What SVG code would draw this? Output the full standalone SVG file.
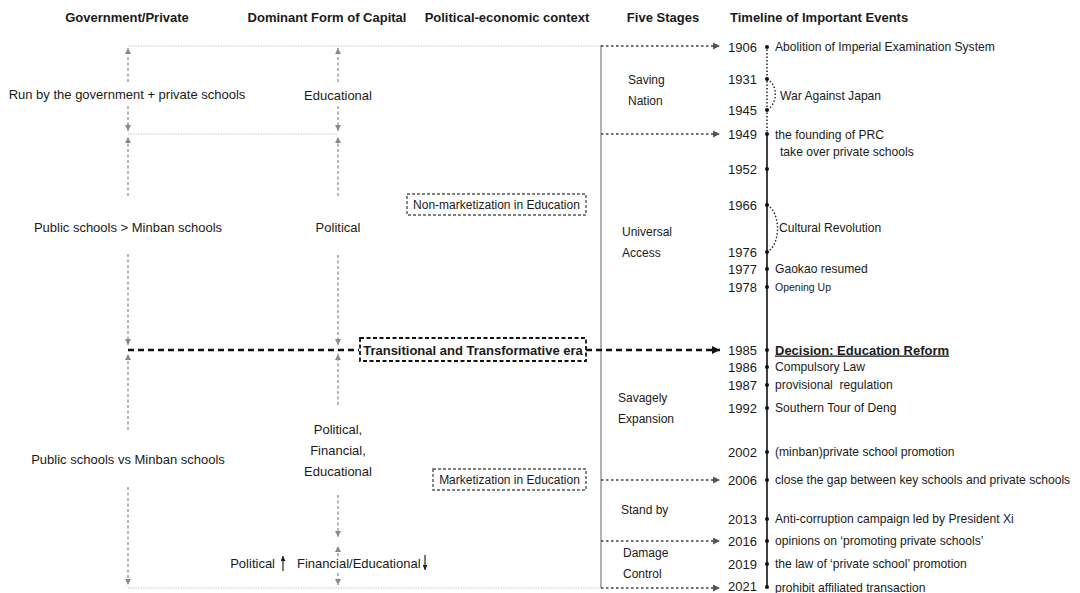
<svg xmlns="http://www.w3.org/2000/svg" width="1080" height="593" viewBox="0 0 1080 593">
<defs>
<marker id="ahg" viewBox="0 0 8 8" refX="8" refY="4" markerWidth="6" markerHeight="6" markerUnits="userSpaceOnUse" orient="auto"><path d="M0,0 L8,4 L0,8 z" fill="#8a8a8a"/></marker>
<marker id="ahd" viewBox="0 0 8 8" refX="8" refY="4" markerWidth="8" markerHeight="7" markerUnits="userSpaceOnUse" orient="auto"><path d="M0,0 L8,4 L0,8 z" fill="#555"/></marker>
<marker id="ahb" viewBox="0 0 8 8" refX="8" refY="4" markerWidth="9" markerHeight="8" markerUnits="userSpaceOnUse" orient="auto"><path d="M0,0 L8,4 L0,8 z" fill="#111"/></marker>
<marker id="ahs" viewBox="0 0 8 8" refX="8" refY="4" markerWidth="5" markerHeight="5" markerUnits="userSpaceOnUse" orient="auto"><path d="M0,0 L8,4 L0,8 z" fill="#222"/></marker>
</defs>
<style>
text{font-family:"Liberation Sans",Arial,sans-serif;fill:#1a1a1a}
.h{font-size:13px;font-weight:bold}
.t{font-size:13px}
.s{font-size:12px}
.y{font-size:13px;text-anchor:end}
.e{font-size:12.1px}
.c{text-anchor:middle}
.vg{fill:none;stroke:#999;stroke-width:1.4;stroke-dasharray:3 2.5;marker-end:url(#ahg)}
.lg{fill:none;stroke:#c8c8c8;stroke-width:1;stroke-dasharray:1.5 1}
.dot{fill:none;stroke:#444;stroke-width:1.3;stroke-dasharray:2.5 2.5;marker-end:url(#ahd)}
.thick{fill:none;stroke:#111;stroke-width:2.3;stroke-dasharray:6 4}
.box{fill:#fff;stroke:#555;stroke-width:1.4;stroke-dasharray:3 2}
.dk{fill:#111}
</style>
<rect width="1080" height="593" fill="#fff"/>

<g id="headers">
<text class="h c" x="127" y="21.5">Government/Private</text>
<text class="h c" x="327" y="21.5">Dominant Form of Capital</text>
<text class="h c" x="507" y="21.5">Political-economic context</text>
<text class="h c" x="663" y="21.5">Five Stages</text>
<text class="h" x="730" y="21.5">Timeline of Important Events</text>
</g>

<g id="connectors">
<path class="lg" d="M128,46 H601"/>
<path class="lg" d="M128,134 H338"/>
<path class="lg" d="M128,588 H601"/>
<path d="M601,45 V588" stroke="#999" stroke-width="1.5" fill="none"/>
<path class="vg" d="M128,82 V48"/>
<path class="vg" d="M128,106 V131"/>
<path class="vg" d="M128,196 V137"/>
<path class="vg" d="M128,254 V345"/>
<path class="vg" d="M128,430 V354"/>
<path class="vg" d="M128,487 V585"/>
<path class="vg" d="M338,82 V48"/>
<path class="vg" d="M338,106 V131"/>
<path class="vg" d="M338,196 V137"/>
<path class="vg" d="M338,255 V345"/>
<path class="vg" d="M338,405 V354"/>
<path class="vg" d="M338,495 V537"/>
<path class="vg" d="M338,556 V546"/>
<path class="vg" d="M338,573 V585"/>
<path class="dot" d="M601,46 H720"/>
<path class="dot" d="M601,134 H720"/>
<path class="dot" d="M601,480 H720"/>
<path class="dot" d="M601,541 H720"/>
<path class="dot" d="M601,588 H720"/>
<path class="thick" d="M128,350 H359"/>
<path class="thick" d="M586,350 H720" marker-end="url(#ahb)"/>
<path d="M283,571 V556" stroke="#222" stroke-width="1.2" marker-end="url(#ahs)"/>
<path d="M425,555 V570" stroke="#222" stroke-width="1.2" marker-end="url(#ahs)"/>
</g>

<g id="col-government">
<text class="t c" x="127" y="98.5">Run by the government + private schools</text>
<text class="t c" x="128" y="231.5">Public schools &gt; Minban schools</text>
<text class="t c" x="128" y="463.5">Public schools vs Minban schools</text>
</g>

<g id="col-capital">
<text class="t c" x="338" y="99.5">Educational</text>
<text class="t c" x="338" y="231.5">Political</text>
<text class="t c" x="338" y="433.5">Political,</text>
<text class="t c" x="338" y="454.5">Financial,</text>
<text class="t c" x="338" y="475.5">Educational</text>
<text class="t" x="275" y="567.5" text-anchor="end">Political</text>
<text class="t" x="297" y="567.5">Financial/Educational</text>
</g>

<g id="context-nonmarket">
<rect class="box" x="407" y="194" width="179" height="21"/>
<text class="s c" x="496.5" y="209">Non-marketization in Education</text>
</g>
<g id="context-transitional">
<rect class="box" x="360" y="338" width="226" height="23" style="stroke:#111;stroke-width:1.8;stroke-dasharray:4 2.5"/>
<text class="h c" x="473" y="354.5">Transitional and Transformative era</text>
</g>
<g id="context-market">
<rect class="box" x="433" y="469" width="153" height="21"/>
<text class="s c" x="509.5" y="484">Marketization in Education</text>
</g>

<g id="stages">
<text class="s" x="628" y="84">Saving</text>
<text class="s" x="628" y="105">Nation</text>
<text class="s" x="622" y="236">Universal</text>
<text class="s" x="622" y="257">Access</text>
<text class="s" x="618" y="402">Savagely</text>
<text class="s" x="618" y="423">Expansion</text>
<text class="s" x="621" y="514">Stand by</text>
<text class="s" x="623" y="557">Damage</text>
<text class="s" x="623" y="578">Control</text>
</g>

<g id="timeline">
<path d="M767,46 V134" stroke="#222" stroke-width="1.5" stroke-dasharray="1.5 2" fill="none"/>
<path d="M767,134 V588" stroke="#111" stroke-width="1.6" fill="none"/>
<path d="M767,79 C778,84 778,104 767,110" stroke="#222" stroke-width="1.4" stroke-dasharray="1.5 2" fill="none"/>
<path d="M767,205 C781,212 781,245 767,252" stroke="#222" stroke-width="1.4" stroke-dasharray="1.5 2" fill="none"/>
<g class="dk">
<circle cx="767" cy="47" r="2"/><circle cx="767" cy="79" r="2"/><circle cx="767" cy="110" r="2"/>
<circle cx="767" cy="134" r="2"/><circle cx="767" cy="169" r="2"/><circle cx="767" cy="205" r="2"/>
<circle cx="767" cy="252" r="2"/><circle cx="767" cy="269" r="2"/><circle cx="767" cy="287" r="2"/>
<circle cx="767" cy="350" r="2"/><circle cx="767" cy="367" r="2"/><circle cx="767" cy="385" r="2"/>
<circle cx="767" cy="408" r="2"/><circle cx="767" cy="452" r="2"/><circle cx="767" cy="480" r="2"/>
<circle cx="767" cy="519" r="2"/><circle cx="767" cy="541" r="2"/><circle cx="767" cy="564" r="2"/>
<circle cx="767" cy="587" r="2"/>
</g>
<text class="y" x="757" y="51.5">1906</text>
<text class="y" x="757" y="83.5">1931</text>
<text class="y" x="757" y="114.5">1945</text>
<text class="y" x="757" y="138.5">1949</text>
<text class="y" x="757" y="173.5">1952</text>
<text class="y" x="757" y="209.5">1966</text>
<text class="y" x="757" y="256.5">1976</text>
<text class="y" x="757" y="273.5">1977</text>
<text class="y" x="757" y="291.5">1978</text>
<text class="y" x="757" y="354.5">1985</text>
<text class="y" x="757" y="371.5">1986</text>
<text class="y" x="757" y="389.5">1987</text>
<text class="y" x="757" y="412.5">1992</text>
<text class="y" x="757" y="456.5">2002</text>
<text class="y" x="757" y="484.5">2006</text>
<text class="y" x="757" y="523.5">2013</text>
<text class="y" x="757" y="545.5">2016</text>
<text class="y" x="757" y="568.5">2019</text>
<text class="y" x="757" y="590.5">2021</text>
<text class="e" x="775" y="51">Abolition of Imperial Examination System</text>
<text class="e" x="780" y="100">War Against Japan</text>
<text class="e" x="775" y="139">the founding of PRC</text>
<text class="e" x="780" y="156">take over private schools</text>
<text class="e" x="779" y="232">Cultural Revolution</text>
<text class="e" x="775" y="273">Gaokao resumed</text>
<text x="775" y="290.5" style="font-size:10.5px">Opening Up</text>
<text class="h" x="775" y="354.5" text-decoration="underline">Decision: Education Reform</text>
<text class="e" x="775" y="371">Compulsory Law</text>
<text class="e" x="775" y="389">provisional&#160; regulation</text>
<text class="e" x="775" y="412">Southern Tour of Deng</text>
<text class="e" x="775" y="456">(minban)private school promotion</text>
<text class="e" x="775" y="484">close the gap between key schools and private schools</text>
<text class="e" x="775" y="523">Anti-corruption campaign led by President Xi</text>
<text class="e" x="775" y="545">opinions on ‘promoting private schools’</text>
<text class="e" x="775" y="568">the law of ‘private school’ promotion</text>
<text class="e" x="775" y="592">prohibit affiliated transaction</text>
</g>
</svg>
